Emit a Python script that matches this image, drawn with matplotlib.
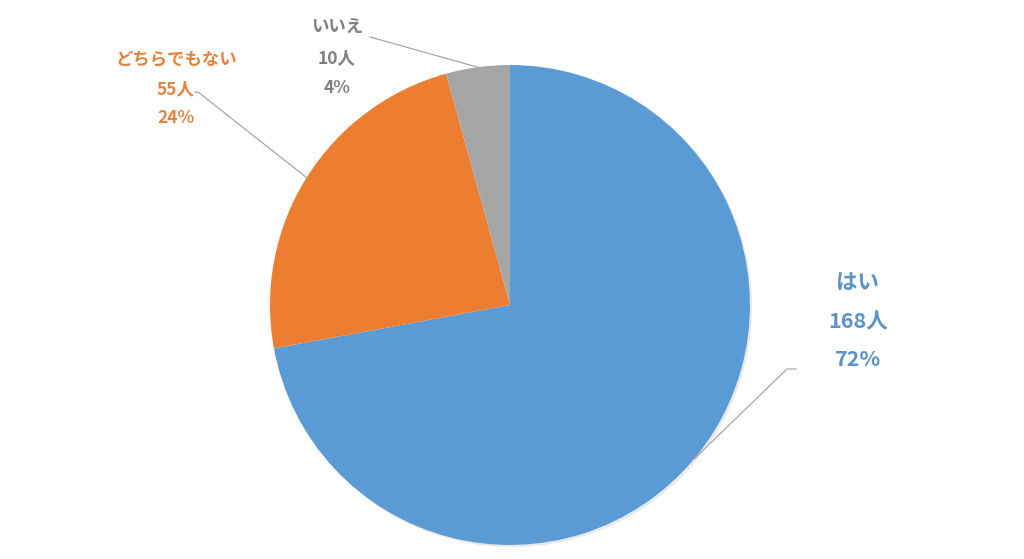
import numpy as np
import matplotlib.pyplot as plt
from matplotlib.patches import Circle
import matplotlib.patheffects as pe

plt.rcParams['font.family'] = ['Noto Sans CJK JP', 'DejaVu Sans']

# data
labels = ['はい', 'どちらでもない', 'いいえ']
counts = [168, 55, 10]
colors = ['#5B9BD5', '#ED7D31', '#A5A5A5']
text_colors = ['#5B93C9', '#E4833D', '#7F7F7F']

W, H = 1024, 559
fig = plt.figure(figsize=(W / 100, H / 100), dpi=100)
ax = fig.add_axes([0, 0, 1, 1])
ax.set_xlim(0, W)
ax.set_ylim(0, H)
ax.axis('off')

cx, cy, r = 510, H - 305, 240

# soft shadow under the pie
shadow = Circle((cx, cy), r, facecolor='white', edgecolor='none', zorder=1)
shadow.set_path_effects([pe.SimplePatchShadow(offset=(1.5, -1.5), shadow_rgbFace='#aaaaaa', alpha=0.25),
                         pe.Normal()])
ax.add_patch(shadow)

wedges, _ = ax.pie(counts, colors=colors, startangle=90, counterclock=False,
                   center=(cx, cy), radius=r, frame=True,
                   wedgeprops=dict(linewidth=0, zorder=2))
ax.set_xlim(0, W)
ax.set_ylim(0, H)
ax.set_aspect('equal')
ax.axis('off')

total = sum(counts)
pcts = [f'{round(c / total * 100)}%' for c in counts]

# label positions (pixels from top) and styles
label_x = [858, 176, 337]
label_y = [[282, 322, 360], [60, 89, 118], [28, 58, 88]]
sizes = [15.5, 12.5, 12.5]
elbows = [[(796, 369), (787, 369)], [(195, 92), (198, 92)], [(370, 37)]]

for i, w in enumerate(wedges):
    lines = [labels[i], f'{counts[i]}人', pcts[i]]
    for txt, yy in zip(lines, label_y[i]):
        ax.text(label_x[i], H - yy, txt, ha='center', va='center', fontsize=sizes[i],
                fontweight='bold', color=text_colors[i], zorder=5)
    mid = np.deg2rad((w.theta1 + w.theta2) / 2)
    ex, ey = cx + r * np.cos(mid), cy + r * np.sin(mid)
    xs = [p[0] for p in elbows[i]] + [ex]
    ys = [H - p[1] for p in elbows[i]] + [ey]
    ax.plot(xs, ys, color='#A6A6A6', linewidth=0.9, zorder=4)

fig.savefig('out.png', dpi=100, facecolor='white')
